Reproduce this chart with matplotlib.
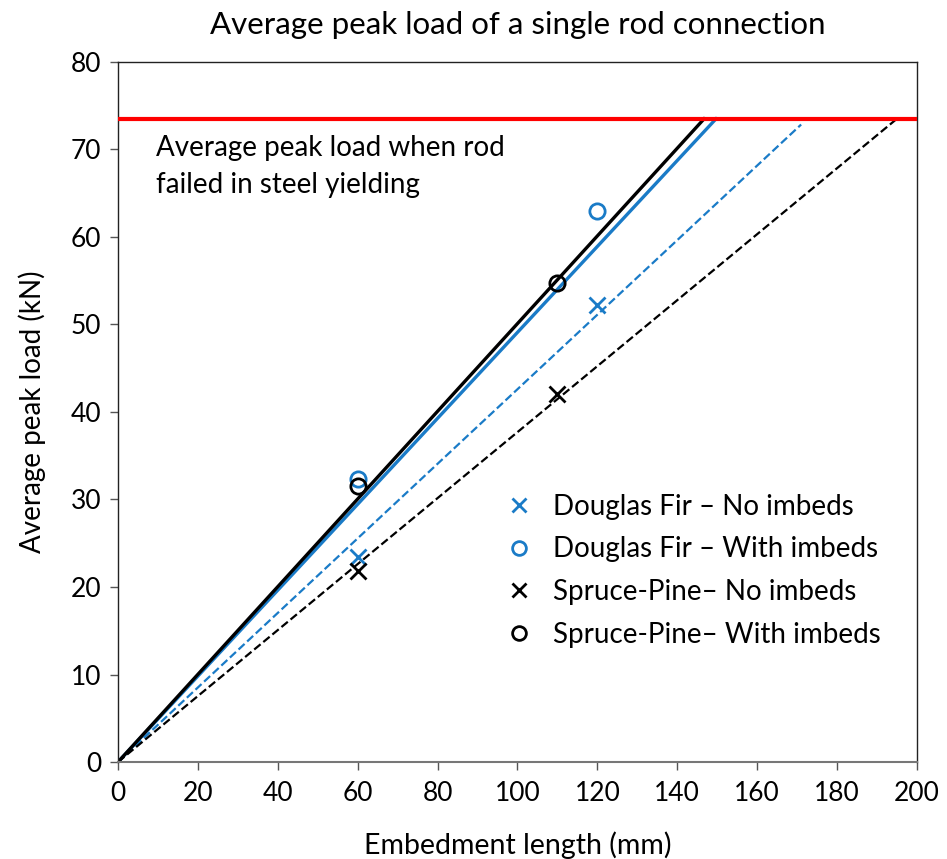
import matplotlib.pyplot as plt
import numpy as np

plt.rcParams['font.family'] = ['Lato', 'DejaVu Sans']

# measured points (embedment length mm, average peak load kN)
df_x = [60, 120]
df_no_imbeds = [23.4, 52.2]
df_with_imbeds = [32.3, 63.0]
sp_x = [60, 110]
sp_no_imbeds = [21.8, 42.1]
sp_with_imbeds = [31.5, 54.7]

# trend lines through origin: slope and end of the drawn segment
trend_slopes = [0.426, 0.491, 0.377, 0.501]
trend_ends = [171, 149.7, 195, 146.7]
steel_yield_load = 73.5

blue = '#1a7bc7'

fig = plt.figure(figsize=(9.47, 8.59), dpi=100)
ax = fig.add_axes([0.1246, 0.1129, 0.8437, 0.815])

# trend lines
styles = [(blue, '--', 1.6), (blue, '-', 2.4), ('black', '--', 1.6), ('black', '-', 2.4)]
for slope, xend, (c, ls, lw) in zip(trend_slopes, trend_ends, styles):
    xs = np.array([0, xend])
    ax.plot(xs, slope * xs, color=c, linestyle=ls, linewidth=lw, zorder=2)

ax.axhline(steel_yield_load, color='#ff0000', linewidth=3, zorder=3)

# points
ax.plot(df_x, df_no_imbeds, linestyle='none', marker='x', markersize=11, mew=2,
        color=blue, label='Douglas Fir \u2013 No imbeds', zorder=4)
ax.plot(df_x, df_with_imbeds, linestyle='none', marker='o', markersize=11, mew=2,
        mfc='none', mec=blue, label='Douglas Fir \u2013 With imbeds', zorder=4)
ax.plot(sp_x, sp_no_imbeds, linestyle='none', marker='x', markersize=11, mew=2,
        color='black', label='Spruce-Pine\u2013 No imbeds', zorder=4)
ax.plot(sp_x, sp_with_imbeds, linestyle='none', marker='o', markersize=11, mew=2,
        mfc='none', mec='black', label='Spruce-Pine\u2013 With imbeds', zorder=4)

ax.text(9.5, 71.6, 'Average peak load when rod\nfailed in steel yielding', fontsize=20,
        va='top', ha='left', linespacing=1.5)

ax.set_xlim(0, 200)
ax.set_ylim(0, 80)
ax.set_xticks(np.arange(0, 201, 20))
ax.set_yticks(np.arange(0, 81, 10))
ax.tick_params(axis='both', labelsize=19, length=6, width=1, color='#555555', direction='out')
ax.tick_params(axis='x', pad=8)
ax.tick_params(axis='y', pad=6)

for side in ['top', 'right', 'left']:
    ax.spines[side].set_color('#222222')
    ax.spines[side].set_linewidth(1)
ax.spines['bottom'].set_color('#777777')
ax.spines['bottom'].set_linewidth(1.5)

ax.set_xlabel('Embedment length (mm)', fontsize=20.5, labelpad=18)
ax.set_ylabel('Average peak load (kN)', fontsize=20, labelpad=18)
ax.set_title('Average peak load of a single rod connection', fontsize=22.5, pad=20)

ax.legend(loc='upper left', bbox_to_anchor=(0.464, 0.403), frameon=False, fontsize=20,
          handletextpad=0.6, labelspacing=0.6, handlelength=1.2, borderpad=0,
          markerscale=0.9)

fig.savefig('out.png', dpi=100)
